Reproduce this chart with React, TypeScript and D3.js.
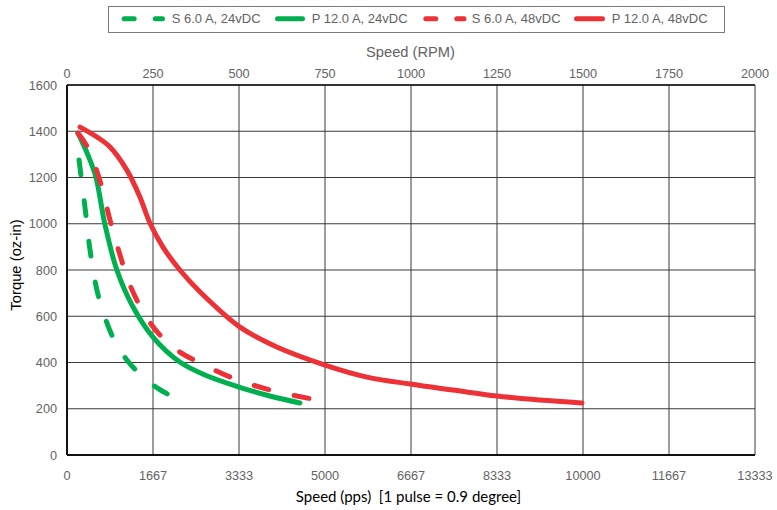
import React from "react";
import * as d3 from "d3";

const rpmTicks = [0, 250, 500, 750, 1000, 1250, 1500, 1750, 2000];
const ppsTickLabels = ["0", "1667", "3333", "5000", "6667", "8333", "10000", "11667", "13333"];
const torqueTicks = [0, 200, 400, 600, 800, 1000, 1200, 1400, 1600];

const s24Rpm = [35, 55, 67, 87, 113, 140, 174, 212, 262, 314];
const s24Torque = [1276, 1038, 886, 713, 584, 489, 411, 350, 290, 246];

const p24Rpm = [32, 61, 84, 110, 145, 192, 250, 328, 401, 500, 590, 677];
const p24Torque = [1392, 1297, 1202, 999, 800, 640, 510, 402, 346, 294, 255, 225];

const s48Rpm = [32, 61, 96, 125, 154, 183, 227, 270, 328, 387, 474, 590, 727];
const s48Torque = [1392, 1327, 1185, 1016, 865, 735, 605, 519, 445, 398, 337, 281, 238];

const p48Rpm = [38, 87, 125, 174, 212, 241, 279, 328, 387, 503, 610, 750, 872, 997, 1122, 1250, 1375, 1497];
const p48Torque = [1418, 1375, 1332, 1232, 1116, 1003, 899, 800, 705, 553, 467, 389, 337, 307, 281, 255, 238, 225];

const seriesNames = ["S 6.0 A, 24vDC", "P 12.0 A, 24vDC", "S 6.0 A, 48vDC", "P 12.0 A, 48vDC"];

const GREEN = "#00B050";
const RED = "#EC3237";

export default function App() {
  const W = 777, H = 510;
  const left = 67, right = 755, top = 85, bottom = 455;
  const x = d3.scaleLinear().domain([0, 2000]).range([left, right]);
  const y = d3.scaleLinear().domain([0, 1600]).range([bottom, top]);

  const line = d3
    .line<[number, number]>()
    .x((d) => x(d[0]))
    .y((d) => y(d[1]))
    .curve(d3.curveCatmullRom.alpha(0.5));

  const series = [
    { name: seriesNames[0], rpm: s24Rpm, tq: s24Torque, color: GREEN, dashed: true },
    { name: seriesNames[1], rpm: p24Rpm, tq: p24Torque, color: GREEN, dashed: false },
    { name: seriesNames[2], rpm: s48Rpm, tq: s48Torque, color: RED, dashed: true },
    { name: seriesNames[3], rpm: p48Rpm, tq: p48Torque, color: RED, dashed: false },
  ];

  // legend layout: [line start, line end, text x]
  const legendLayout = [
    [124.2, 162.5, 171.7],
    [277.5, 302.5, 311.7],
    [425.8, 464, 471.7],
    [576.5, 602.5, 611.7],
  ];
  const font = "'Liberation Sans', Arial, sans-serif";
  const grey = "#636363";

  return (
    <svg width={W} height={H} style={{ position: "absolute", left: 0, top: 0, background: "#fff" }} fontFamily={font}>
      <rect x={0} y={0} width={W} height={H} fill="#fff" />
      {/* Legend */}
      <rect x={108.5} y={6.5} width={616} height={26} fill="#fff" stroke="#7a7a7a" strokeWidth={1} />
      {series.map((s, i) => (
        <g key={s.name}>
          <line
            x1={legendLayout[i][0]}
            x2={legendLayout[i][1]}
            y1={18.7}
            y2={18.7}
            stroke={s.color}
            strokeWidth={5}
            strokeLinecap="round"
            strokeDasharray={s.dashed ? "10 21" : undefined}
          />
          <text x={legendLayout[i][2]} y={23} fontSize={13} fill={grey}>
            {s.name}
          </text>
        </g>
      ))}

      {/* Grid */}
      {rpmTicks.map((t) => (
        <line key={"gx" + t} x1={x(t)} x2={x(t)} y1={top} y2={bottom} stroke="#3a3a3a" strokeWidth={1} />
      ))}
      {torqueTicks.map((t) => (
        <line key={"gy" + t} x1={left} x2={right} y1={y(t)} y2={y(t)} stroke="#3a3a3a" strokeWidth={1} />
      ))}
      <line x1={left} x2={left} y1={top} y2={bottom} stroke="#111" strokeWidth={2} />
      <line x1={left} x2={right} y1={bottom} y2={bottom} stroke="#111" strokeWidth={2} />
      <line x1={left} x2={right} y1={top} y2={top} stroke="#111" strokeWidth={1.5} />

      {/* Tick labels */}
      {torqueTicks.map((t) => (
        <text key={"ty" + t} x={57} y={y(t) + 4.5} fontSize={12.7} fill={grey} textAnchor="end">
          {t}
        </text>
      ))}
      {rpmTicks.map((t) => (
        <text key={"tt" + t} x={x(t)} y={77.5} fontSize={12.7} fill={grey} textAnchor="middle">
          {t}
        </text>
      ))}
      {rpmTicks.map((t, i) => (
        <text key={"tb" + t} x={x(t)} y={480} fontSize={12.7} fill={grey} textAnchor="middle">
          {ppsTickLabels[i]}
        </text>
      ))}

      {/* Axis titles */}
      <text x={410.5} y={56.5} fontSize={14.7} fill={grey} textAnchor="middle">
        Speed (RPM)
      </text>
      <text
        x={408.5}
        y={502}
        fontSize={15}
        fill="#000"
        textAnchor="middle"
        fontFamily="Lato, 'Open Sans', sans-serif"
        style={{ whiteSpace: "pre" }}
      >
        {"Speed (pps)  [1 pulse = 0.9 degree]"}
      </text>
      <text
        transform={`translate(20.5,265) rotate(-90)`}
        fontSize={14.8}
        fill="#000"
        textAnchor="middle"
      >
        Torque (oz-in)
      </text>

      {/* Curves */}
      {series.map((s) => {
        const pts: [number, number][] = s.rpm.map((r, i) => [r, s.tq[i]]);
        return (
          <path
            key={"c" + s.name}
            d={line(pts) || ""}
            fill="none"
            stroke={s.color}
            strokeWidth={5}
            strokeLinecap="round"
            strokeLinejoin="round"
            strokeDasharray={s.dashed ? "15 26" : undefined}
          />
        );
      })}
    </svg>
  );
}
